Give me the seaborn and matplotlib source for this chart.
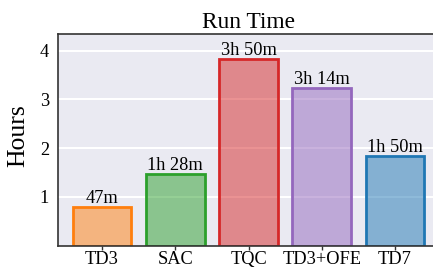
import matplotlib
matplotlib.use("Agg")
import matplotlib.pyplot as plt
import seaborn as sns
import pandas as pd
from matplotlib.colors import to_rgba

methods = ["TD3", "SAC", "TQC", "TD3+OFE", "TD7"]
hours = [47 / 60, 1 + 28 / 60, 3 + 50 / 60, 3 + 14 / 60, 1 + 50 / 60]
time_labels = ["47m", "1h 28m", "3h 50m", "3h 14m", "1h 50m"]
colors = ["#ff7f0e", "#2ca02c", "#d62728", "#9467bd", "#1f77b4"]

sns.set_style("darkgrid")
plt.rcParams["font.family"] = "serif"
plt.rcParams["font.serif"] = ["Liberation Serif", "Times New Roman", "DejaVu Serif"]
plt.rcParams["text.color"] = "black"
plt.rcParams["axes.labelcolor"] = "black"
plt.rcParams["xtick.color"] = "black"
plt.rcParams["ytick.color"] = "black"

df = pd.DataFrame({"method": methods, "hours": hours})

fig = plt.figure(figsize=(4.33, 2.70), dpi=100)
ax = fig.add_axes([58 / 433, 1 - 245.5 / 270, 381 / 433, 212 / 270])

sns.barplot(data=df, x="method", y="hours", hue="method", palette=colors,
            width=0.8, legend=False, ax=ax)

for patch, c in zip(ax.patches, colors):
    patch.set_facecolor(to_rgba(c, 0.5))
    patch.set_edgecolor(c)
    patch.set_linewidth(2)

for cont, lab in zip(ax.containers, time_labels):
    ax.bar_label(cont, labels=[lab], padding=0, fontsize=13.2)

ax.set_xlim(-0.6, 4.6)
ax.set_ylim(0, 4.35)
ax.set_yticks([1, 2, 3, 4])
ax.grid(axis="x", visible=False)
ax.grid(axis="y", color="white", linewidth=1.5)

for side in ["top", "left", "bottom", "right"]:
    ax.spines[side].set_visible(True)
    ax.spines[side].set_color("#333333")
    ax.spines[side].set_linewidth(1.2)

ax.tick_params(axis="x", bottom=True, length=3, width=1, color="#333333",
               labelsize=13.2, pad=1)
ax.tick_params(axis="y", left=False, labelsize=13.2, pad=3)
ax.set_xlabel("")
ax.set_ylabel("Hours", fontsize=18.5)
ax.yaxis.set_label_coords(-0.075, 0.52)
ax.set_title("Run Time", fontsize=16.8, pad=4)

fig.savefig("out.png", dpi=100)
